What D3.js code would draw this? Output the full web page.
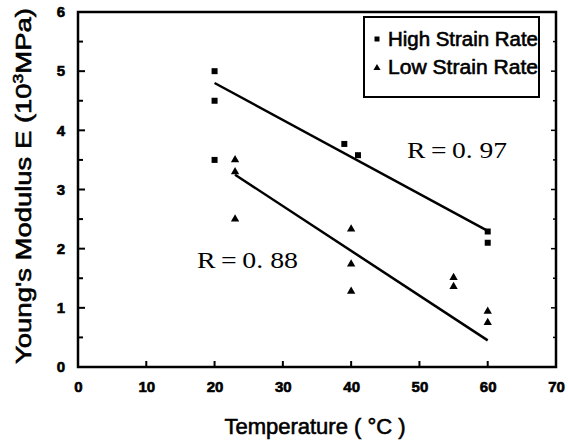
<!DOCTYPE html>
<html><head><meta charset="utf-8">
<script src="https://cdn.jsdelivr.net/npm/d3@7"></script>
<style>body{margin:0;background:#fff}</style>
</head><body>
<script>
const highTemp = [20, 20, 20, 39, 41, 60, 60];
const highE    = [5.0, 4.5, 3.5, 3.77, 3.58, 2.29, 2.1];
const lowTemp  = [23, 23, 23, 40, 40, 40, 55, 55, 60, 60];
const lowE     = [3.5, 3.3, 2.5, 2.33, 1.74, 1.28, 1.51, 1.36, 0.94, 0.75];
const highFitT = [20, 60];
const highFitE = [4.8, 2.3];
const lowFitT  = [23, 60];
const lowFitE  = [3.25, 0.45];
const xTicks = [0, 10, 20, 30, 40, 50, 60, 70];
const yTicks = [0, 1, 2, 3, 4, 5, 6];
const seriesNames = ["High Strain Rate", "Low Strain Rate"];
const rLabels = ["R\u2009=\u20090. 97", "R\u2009=\u20090. 88"];

const W = 568, H = 446;
const svg = d3.select("body").append("svg").attr("width", W).attr("height", H);
const x = d3.scaleLinear().domain([0, 70]).range([78, 556]);
const y = d3.scaleLinear().domain([0, 6]).range([367, 12]);
const sans = "Liberation Sans, Arial, sans-serif";

const g = svg.append("g");
// frame
g.append("rect").attr("x", x(0)).attr("y", y(6)).attr("width", x(70) - x(0)).attr("height", y(0) - y(6))
  .attr("fill", "none").attr("stroke", "#000").attr("stroke-width", 2.5);

// ticks inside
const yMinor = d3.range(0, 6.01, 0.5);
g.selectAll(".yt").data(yMinor).join("line")
  .attr("x1", x(0)).attr("x2", d => x(0) + (Number.isInteger(d) ? 7 : 5))
  .attr("y1", d => y(d)).attr("y2", d => y(d)).attr("stroke", "#000").attr("stroke-width", 2);
g.selectAll(".yt2").data(yMinor).join("line")
  .attr("x1", x(70)).attr("x2", d => x(70) - (Number.isInteger(d) ? 5 : 3))
  .attr("y1", d => y(d)).attr("y2", d => y(d)).attr("stroke", "#000").attr("stroke-width", 1.5);
g.selectAll(".xt").data(xTicks).join("line")
  .attr("x1", d => x(d)).attr("x2", d => x(d))
  .attr("y1", y(0)).attr("y2", y(0) - 6).attr("stroke", "#000").attr("stroke-width", 2);

// tick labels via axes
const yAxis = d3.axisLeft(y).tickValues(yTicks).tickSize(0).tickPadding(12).tickFormat(d3.format("d"));
const ya = svg.append("g").attr("transform", `translate(${x(0) - 1},0)`).call(yAxis);
ya.select(".domain").remove();
ya.selectAll("text").attr("font-family", sans).attr("font-weight", "bold").attr("font-size", 15)
  .attr("fill", "#000").attr("stroke", "#000").attr("stroke-width", 0.6);

const xAxis = d3.axisBottom(x).tickValues(xTicks).tickSize(0).tickPadding(14).tickFormat(d3.format("d"));
const xa = svg.append("g").attr("transform", `translate(0,${y(0)})`).call(xAxis);
xa.select(".domain").remove();
xa.selectAll("text").attr("font-family", sans).attr("font-weight", "bold").attr("font-size", 15)
  .attr("fill", "#000").attr("stroke", "#000").attr("stroke-width", 0.6);

// axis titles
svg.append("text").attr("x", 315).attr("y", 434).attr("text-anchor", "middle")
  .attr("font-family", sans).attr("font-size", 22).attr("fill", "#000")
  .attr("stroke", "#000").attr("stroke-width", 0.6)
  .text("Temperature ( \u00B0C )");
const yt = svg.append("text").attr("transform", "translate(31,186) rotate(-90)").attr("text-anchor", "middle")
  .attr("font-family", sans).attr("font-size", 22).attr("fill", "#000")
  .attr("stroke", "#000").attr("stroke-width", 0.6)
  .attr("textLength", 356).attr("lengthAdjust", "spacingAndGlyphs");
yt.append("tspan").text("Young's Modulus E (10");
yt.append("tspan").attr("font-size", 14).attr("dy", -8).text("3");
yt.append("tspan").attr("dy", 8).text("MPa)");

// fit lines
const line = d3.line().x(d => x(d[0])).y(d => y(d[1]));
g.append("path").attr("d", line(d3.zip(highFitT, highFitE))).attr("stroke", "#000").attr("stroke-width", 2.5).attr("fill", "none");
g.append("path").attr("d", line(d3.zip(lowFitT, lowFitE))).attr("stroke", "#000").attr("stroke-width", 2.5).attr("fill", "none");

// markers
const sq = d3.symbol().type(d3.symbolSquare).size(36);
const tri = d3.symbol().type(d3.symbolTriangle).size(30);
g.selectAll(".hp").data(d3.zip(highTemp, highE)).join("path")
  .attr("d", sq).attr("transform", d => `translate(${x(d[0])},${y(d[1])})`).attr("fill", "#000");
g.selectAll(".lp").data(d3.zip(lowTemp, lowE)).join("path")
  .attr("d", tri).attr("transform", d => `translate(${x(d[0])},${y(d[1])})`).attr("fill", "#000");

// R labels
svg.append("text").attr("x", 407).attr("y", 158).attr("font-family", "Liberation Serif, Times New Roman, serif")
  .attr("font-size", 24).attr("fill", "#000").attr("textLength", 100).attr("lengthAdjust", "spacingAndGlyphs").text(rLabels[0]);
svg.append("text").attr("x", 197).attr("y", 268).attr("font-family", "Liberation Serif, Times New Roman, serif")
  .attr("font-size", 24).attr("fill", "#000").attr("textLength", 101).attr("lengthAdjust", "spacingAndGlyphs").text(rLabels[1]);

// legend
svg.append("rect").attr("x", 364).attr("y", 17).attr("width", 175).attr("height", 80)
  .attr("fill", "#fff").attr("stroke", "#000").attr("stroke-width", 2);
const leg = svg.append("g");
leg.append("path").attr("d", d3.symbol().type(d3.symbolSquare).size(25)).attr("transform", "translate(377,39)").attr("fill", "#000");
leg.append("path").attr("d", d3.symbol().type(d3.symbolTriangle).size(22)).attr("transform", "translate(377,68)").attr("fill", "#000");
leg.selectAll("text").data(seriesNames).join("text")
  .attr("x", 388).attr("y", (d, i) => 46 + i * 28)
  .attr("font-family", sans).attr("font-size", 20).attr("fill", "#000")
  .attr("stroke", "#000").attr("stroke-width", 0.6)
  .attr("textLength", 150).attr("lengthAdjust", "spacingAndGlyphs")
  .text(d => d);
</script>
</body></html>
